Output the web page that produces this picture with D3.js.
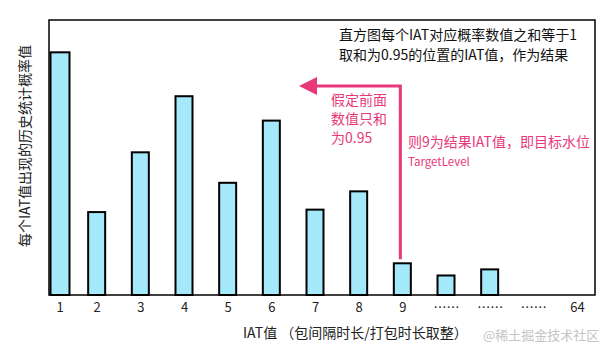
<!DOCTYPE html>
<html>
<head>
<meta charset="utf-8">
<script src="https://cdn.jsdelivr.net/npm/d3@7/dist/d3.min.js"></script>
<style>
  html, body { margin: 0; padding: 0; background: #fff; }
  svg { display: block; font-family: "Noto Sans CJK SC", "Noto Sans", sans-serif; }
</style>
</head>
<body>
<div id="chart"></div>
<script>
// x 轴类别（IAT 值），后面几个是省略号
const iatLabels = ["1", "2", "3", "4", "5", "6", "7", "8", "9", "……", "……", "……", "64"];
// 每个 IAT 值的历史统计概率（前 11 个有柱子），合计约为 1
const probabilities = [0.199, 0.068, 0.117, 0.163, 0.092, 0.143, 0.070, 0.085, 0.026, 0.016, 0.021];
const targetIndex = 8; // IAT = 9

const noteLines = ["直方图每个IAT对应概率数值之和等于1", "取和为0.95的位置的IAT值，作为结果"];
const assumeLines = ["假定前面", "数值只和", "为0.95"];
const resultLines = ["则9为结果IAT值，即目标水位", "TargetLevel"];
const xTitle = "IAT值 （包间隔时长/打包时长取整）";
const yTitle = "每个IAT值出现的历史统计概率值";
const watermark = "@稀土掘金技术社区";

const width = 609, height = 354;
const frame = { left: 49, top: 20, right: 595, bottom: 295 };
const pink = "#e8387a";

const svg = d3.select("#chart").append("svg")
    .attr("width", width)
    .attr("height", height);

const x = d3.scalePoint()
    .domain(d3.range(iatLabels.length))
    .range([53, 577]);

const y = d3.scaleLinear()
    .domain([0, 0.2255])
    .range([frame.bottom, frame.top]);

const barW = 17;

// 外框
svg.append("rect")
    .attr("x", frame.left).attr("y", frame.top)
    .attr("width", frame.right - frame.left)
    .attr("height", frame.bottom - frame.top)
    .attr("fill", "none")
    .attr("stroke", "#111")
    .attr("stroke-width", 1.6);

// 柱子
svg.append("g").selectAll("rect")
    .data(probabilities)
    .join("rect")
    .attr("x", (d, i) => Math.max(x(i) - barW / 2, frame.left + 1.5))
    .attr("y", d => y(d))
    .attr("width", (d, i) => i === 0 ? barW + 2 : barW)
    .attr("height", d => frame.bottom - y(d))
    .attr("fill", "#a4e9fa")
    .attr("stroke", "#000")
    .attr("stroke-width", 2);

// x 轴刻度文字
const xAxis = svg.append("g")
    .attr("transform", `translate(0,${frame.bottom})`)
    .call(d3.axisBottom(x).tickSize(0).tickPadding(8).tickFormat(i => iatLabels[i]));
xAxis.select(".domain").remove();
xAxis.selectAll("text")
    .attr("font-family", '"Noto Sans CJK SC", sans-serif')
    .attr("font-size", 13)
    .attr("fill", "#222");
// 第一个刻度文字与柱子对齐
xAxis.selectAll(".tick").filter(i => i === 0)
    .attr("transform", `translate(${frame.left + 11},0)`);

// 轴标题
svg.append("text")
    .attr("x", 243).attr("y", 338)
    .attr("font-size", 14)
    .attr("fill", "#222")
    .text(xTitle);

svg.append("text")
    .attr("transform", `translate(30,146) rotate(-90)`)
    .attr("text-anchor", "middle")
    .attr("font-size", 14)
    .attr("fill", "#222")
    .text(yTitle);

// 右上说明
svg.append("g").selectAll("text")
    .data(noteLines)
    .join("text")
    .attr("x", 339)
    .attr("y", (d, i) => 40 + i * 20)
    .attr("font-size", 14)
    .attr("fill", "#111")
    .text(d => d);

// 粉色箭头：从第 9 根柱子向上再向左
const lineX = x(targetIndex) - 2;
const arrowY = 86;
const tipX = 299;
svg.append("path")
    .attr("d", `M${lineX},${y(probabilities[targetIndex]) - 4} V${arrowY} H${tipX + 14}`)
    .attr("fill", "none")
    .attr("stroke", pink)
    .attr("stroke-width", 3);
svg.append("path")
    .attr("d", `M${tipX},${arrowY} L${tipX + 18},${arrowY - 9} L${tipX + 18},${arrowY + 9} Z`)
    .attr("fill", pink);

svg.append("g").selectAll("text")
    .data(assumeLines)
    .join("text")
    .attr("x", 331)
    .attr("y", (d, i) => 105 + i * 19)
    .attr("font-size", 14)
    .attr("fill", pink)
    .text(d => d);

svg.append("text")
    .attr("x", 408).attr("y", 147)
    .attr("font-size", 14)
    .attr("fill", pink)
    .text(resultLines[0]);
svg.append("text")
    .attr("x", 408).attr("y", 166)
    .attr("font-size", 11.5)
    .attr("fill", pink)
    .text(resultLines[1]);

// 水印
svg.append("text")
    .attr("x", 483).attr("y", 340)
    .attr("font-size", 13)
    .attr("fill", "#c4c4c4")
    .text(watermark);
</script>
</body>
</html>
